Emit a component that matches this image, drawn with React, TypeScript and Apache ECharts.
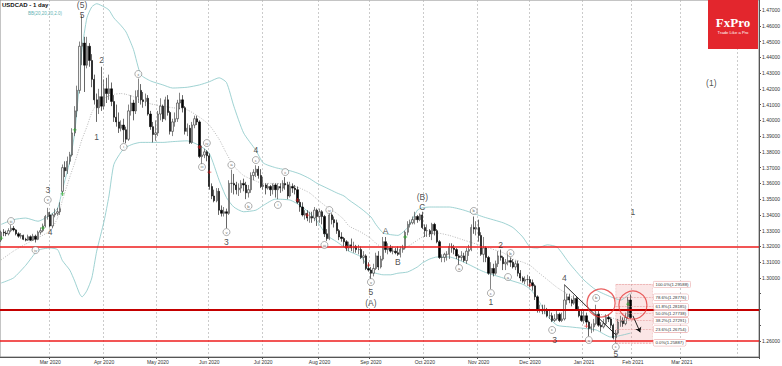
import React, { useEffect, useRef } from "react";
import * as echarts from "echarts";

// ---------- categories ----------
const FIRST_DAY = "2020-02-03";
const SKIPPED_DAYS = ["2020-12-25", "2021-01-01"];
const CATEGORY_COUNT = 310;
const LAST_LABEL_DAY = "2021-03-01";
const MONTHS = ["Jan", "Feb", "Mar", "Apr", "May", "Jun", "Jul", "Aug", "Sep", "Oct", "Nov", "Dec"];

// ---------- candles: [open, close, low, high] ----------
const feb2020 = [
  [1.3240, 1.3290, 1.3228, 1.3300], [1.3290, 1.3285, 1.3265, 1.3310], [1.3285, 1.3280, 1.3265, 1.3300],
  [1.3280, 1.3300, 1.3270, 1.3315], [1.3300, 1.3315, 1.3290, 1.3335], [1.3315, 1.3305, 1.3295, 1.3330],
  [1.3305, 1.3280, 1.3270, 1.3310], [1.3280, 1.3265, 1.3255, 1.3290], [1.3265, 1.3270, 1.3250, 1.3285],
  [1.3270, 1.3245, 1.3240, 1.3275], [1.3245, 1.3240, 1.3232, 1.3255], [1.3240, 1.3262, 1.3235, 1.3275],
  [1.3262, 1.3240, 1.3235, 1.3270], [1.3240, 1.3265, 1.3235, 1.3280], [1.3265, 1.3245, 1.3225, 1.3275],
  [1.3245, 1.3290, 1.3240, 1.3300], [1.3290, 1.3300, 1.3275, 1.3320], [1.3300, 1.3330, 1.3290, 1.3345],
  [1.3330, 1.3390, 1.3320, 1.3400], [1.3390, 1.3415, 1.3370, 1.3445],
];
const mar2020 = [
  [1.3400, 1.3330, 1.3320, 1.3420], [1.3330, 1.3400, 1.3315, 1.3410], [1.3400, 1.3410, 1.3385, 1.3440],
  [1.3410, 1.3420, 1.3395, 1.3445], [1.3420, 1.3440, 1.3400, 1.3480], [1.3550, 1.3700, 1.3540, 1.3720],
  [1.3700, 1.3680, 1.3640, 1.3740], [1.3680, 1.3740, 1.3660, 1.3770], [1.3740, 1.3780, 1.3720, 1.3800],
  [1.3780, 1.3920, 1.3770, 1.3950], [1.3920, 1.4060, 1.3900, 1.4090], [1.4060, 1.4190, 1.4020, 1.4220],
  [1.4190, 1.4470, 1.4170, 1.4500], [1.4470, 1.4490, 1.4350, 1.4667], [1.4490, 1.4350, 1.4180, 1.4530],
  [1.4350, 1.4470, 1.4330, 1.4530], [1.4470, 1.4380, 1.4340, 1.4490], [1.4380, 1.4260, 1.4210, 1.4420],
  [1.4260, 1.4130, 1.4100, 1.4290], [1.4130, 1.4080, 1.3990, 1.4170], [1.4080, 1.4150, 1.4040, 1.4200],
  [1.4150, 1.4090, 1.4060, 1.4340],
];
const apr2020 = [
  [1.4090, 1.4200, 1.4070, 1.4260], [1.4200, 1.4170, 1.4110, 1.4270], [1.4170, 1.4200, 1.4130, 1.4290],
  [1.4200, 1.4120, 1.4090, 1.4240], [1.4120, 1.4020, 1.3990, 1.4160], [1.4020, 1.3990, 1.3960, 1.4100],
  [1.3990, 1.3950, 1.3920, 1.4050], [1.3950, 1.3970, 1.3930, 1.4000], [1.3970, 1.3940, 1.3860, 1.4010],
  [1.3940, 1.3880, 1.3855, 1.3960], [1.3880, 1.4060, 1.3870, 1.4100], [1.4060, 1.4110, 1.4030, 1.4160],
  [1.4110, 1.4060, 1.4000, 1.4130], [1.4060, 1.4150, 1.4040, 1.4190], [1.4150, 1.4190, 1.4110, 1.4265],
  [1.4190, 1.4130, 1.4100, 1.4230], [1.4130, 1.4120, 1.4080, 1.4180], [1.4120, 1.4140, 1.4090, 1.4170],
  [1.4140, 1.4040, 1.4030, 1.4160], [1.4040, 1.3960, 1.3940, 1.4060], [1.3960, 1.3910, 1.3860, 1.3990],
  [1.3910, 1.3920, 1.3870, 1.4000],
];
const may2020 = [
  [1.3920, 1.4040, 1.3900, 1.4060], [1.4040, 1.4090, 1.4000, 1.4140], [1.4090, 1.4010, 1.3990, 1.4100],
  [1.4010, 1.4130, 1.4000, 1.4150], [1.4130, 1.4050, 1.4030, 1.4160], [1.4050, 1.3930, 1.3910, 1.4060],
  [1.3930, 1.3990, 1.3900, 1.4010], [1.3990, 1.4010, 1.3960, 1.4050], [1.4010, 1.4110, 1.3990, 1.4130],
  [1.4110, 1.4130, 1.4070, 1.4175], [1.4130, 1.4080, 1.4050, 1.4160], [1.4080, 1.3930, 1.3910, 1.4090],
  [1.3930, 1.3950, 1.3900, 1.3980], [1.3950, 1.3860, 1.3850, 1.3970], [1.3860, 1.3970, 1.3850, 1.3990],
  [1.3970, 1.4010, 1.3950, 1.4030], [1.4010, 1.3990, 1.3970, 1.4030], [1.3990, 1.3770, 1.3760, 1.4000],
  [1.3770, 1.3780, 1.3720, 1.3840], [1.3780, 1.3800, 1.3760, 1.3820], [1.3800, 1.3775, 1.3740, 1.3810],
];
const jun2020 = [
  [1.3775, 1.3580, 1.3560, 1.3790], [1.3580, 1.3520, 1.3500, 1.3600], [1.3520, 1.3490, 1.3480, 1.3560],
  [1.3490, 1.3550, 1.3480, 1.3570], [1.3550, 1.3430, 1.3400, 1.3570], [1.3430, 1.3410, 1.3390, 1.3460],
  [1.3410, 1.3420, 1.3390, 1.3450], [1.3420, 1.3410, 1.3315, 1.3440], [1.3410, 1.3600, 1.3400, 1.3620],
  [1.3600, 1.3600, 1.3540, 1.3687], [1.3600, 1.3590, 1.3530, 1.3660], [1.3590, 1.3560, 1.3530, 1.3610],
  [1.3560, 1.3570, 1.3520, 1.3600], [1.3570, 1.3600, 1.3540, 1.3620], [1.3600, 1.3590, 1.3550, 1.3630],
  [1.3590, 1.3540, 1.3500, 1.3610], [1.3540, 1.3560, 1.3510, 1.3590], [1.3560, 1.3650, 1.3540, 1.3670],
  [1.3650, 1.3670, 1.3620, 1.3690], [1.3670, 1.3690, 1.3640, 1.3715], [1.3690, 1.3650, 1.3630, 1.3710],
  [1.3650, 1.3580, 1.3570, 1.3690],
];
const jul2020 = [
  [1.3580, 1.3590, 1.3560, 1.3640], [1.3590, 1.3570, 1.3530, 1.3600], [1.3570, 1.3580, 1.3560, 1.3600],
  [1.3580, 1.3560, 1.3520, 1.3590], [1.3560, 1.3590, 1.3530, 1.3600], [1.3590, 1.3560, 1.3510, 1.3600],
  [1.3560, 1.3580, 1.3500, 1.3600], [1.3580, 1.3570, 1.3540, 1.3600], [1.3570, 1.3600, 1.3550, 1.3620],
  [1.3600, 1.3590, 1.3560, 1.3640], [1.3590, 1.3520, 1.3500, 1.3610], [1.3520, 1.3580, 1.3510, 1.3610],
  [1.3580, 1.3570, 1.3540, 1.3600], [1.3570, 1.3560, 1.3530, 1.3590], [1.3560, 1.3480, 1.3470, 1.3580],
  [1.3480, 1.3450, 1.3420, 1.3500], [1.3450, 1.3400, 1.3390, 1.3480], [1.3400, 1.3410, 1.3370, 1.3430],
  [1.3410, 1.3380, 1.3360, 1.3430], [1.3380, 1.3390, 1.3350, 1.3420], [1.3390, 1.3380, 1.3350, 1.3420],
  [1.3380, 1.3430, 1.3360, 1.3450], [1.3430, 1.3390, 1.3330, 1.3440],
];
const aug2020 = [
  [1.3390, 1.3420, 1.3350, 1.3440], [1.3420, 1.3390, 1.3340, 1.3430], [1.3390, 1.3280, 1.3260, 1.3400],
  [1.3280, 1.3250, 1.3235, 1.3310], [1.3250, 1.3400, 1.3240, 1.3415], [1.3400, 1.3370, 1.3340, 1.3410],
  [1.3370, 1.3350, 1.3320, 1.3390], [1.3350, 1.3300, 1.3280, 1.3370], [1.3300, 1.3260, 1.3240, 1.3310],
  [1.3260, 1.3250, 1.3230, 1.3290], [1.3250, 1.3230, 1.3200, 1.3260], [1.3230, 1.3190, 1.3170, 1.3240],
  [1.3190, 1.3210, 1.3170, 1.3230], [1.3210, 1.3190, 1.3170, 1.3250], [1.3190, 1.3200, 1.3160, 1.3230],
  [1.3200, 1.3180, 1.3160, 1.3210], [1.3180, 1.3180, 1.3150, 1.3210], [1.3180, 1.3130, 1.3120, 1.3200],
  [1.3130, 1.3140, 1.3090, 1.3170], [1.3140, 1.3060, 1.3050, 1.3150], [1.3060, 1.3050, 1.3040, 1.3100],
];
const sep2020 = [
  [1.3050, 1.3030, 1.2994, 1.3070], [1.3030, 1.3060, 1.3010, 1.3090], [1.3060, 1.3140, 1.3050, 1.3160],
  [1.3140, 1.3070, 1.3050, 1.3170], [1.3070, 1.3120, 1.3060, 1.3140], [1.3120, 1.3230, 1.3110, 1.3260],
  [1.3230, 1.3180, 1.3160, 1.3260], [1.3180, 1.3190, 1.3150, 1.3220], [1.3190, 1.3170, 1.3160, 1.3210],
  [1.3170, 1.3170, 1.3150, 1.3200], [1.3170, 1.3160, 1.3150, 1.3190], [1.3160, 1.3150, 1.3140, 1.3200],
  [1.3150, 1.3180, 1.3130, 1.3200], [1.3180, 1.3190, 1.3160, 1.3210], [1.3190, 1.3290, 1.3180, 1.3300],
  [1.3290, 1.3340, 1.3270, 1.3360], [1.3340, 1.3350, 1.3320, 1.3370], [1.3350, 1.3370, 1.3340, 1.3390],
  [1.3370, 1.3390, 1.3340, 1.3420], [1.3390, 1.3370, 1.3350, 1.3400], [1.3370, 1.3400, 1.3360, 1.3410],
  [1.3400, 1.3320, 1.3310, 1.3420],
];
const oct2020 = [
  [1.3320, 1.3300, 1.3260, 1.3340], [1.3300, 1.3300, 1.3260, 1.3340], [1.3300, 1.3280, 1.3260, 1.3310],
  [1.3280, 1.3340, 1.3240, 1.3350], [1.3340, 1.3300, 1.3270, 1.3350], [1.3300, 1.3230, 1.3220, 1.3310],
  [1.3230, 1.3130, 1.3120, 1.3240], [1.3130, 1.3130, 1.3100, 1.3150], [1.3130, 1.3150, 1.3100, 1.3160],
  [1.3150, 1.3150, 1.3110, 1.3170], [1.3150, 1.3200, 1.3120, 1.3220], [1.3200, 1.3190, 1.3160, 1.3220],
  [1.3190, 1.3180, 1.3150, 1.3210], [1.3180, 1.3140, 1.3120, 1.3190], [1.3140, 1.3130, 1.3080, 1.3150],
  [1.3130, 1.3140, 1.3110, 1.3170], [1.3140, 1.3110, 1.3100, 1.3160], [1.3110, 1.3170, 1.3090, 1.3190],
  [1.3170, 1.3180, 1.3140, 1.3210], [1.3180, 1.3320, 1.3170, 1.3340], [1.3320, 1.3310, 1.3280, 1.3390],
  [1.3310, 1.3320, 1.3270, 1.3360],
];
const nov2020 = [
  [1.3320, 1.3270, 1.3230, 1.3370], [1.3270, 1.3150, 1.3140, 1.3290], [1.3150, 1.3190, 1.3100, 1.3260],
  [1.3190, 1.3130, 1.3100, 1.3200], [1.3130, 1.3030, 1.3020, 1.3140], [1.3030, 1.3060, 1.2930, 1.3100],
  [1.3060, 1.3030, 1.3010, 1.3090], [1.3030, 1.3090, 1.3020, 1.3110], [1.3090, 1.3140, 1.3070, 1.3170],
  [1.3140, 1.3130, 1.3110, 1.3180], [1.3130, 1.3090, 1.3050, 1.3140], [1.3090, 1.3100, 1.3050, 1.3120],
  [1.3100, 1.3110, 1.3080, 1.3160], [1.3110, 1.3100, 1.3070, 1.3130], [1.3100, 1.3070, 1.3060, 1.3120],
  [1.3070, 1.3090, 1.3050, 1.3110], [1.3090, 1.3030, 1.3010, 1.3110], [1.3030, 1.3000, 1.2980, 1.3050],
  [1.3000, 1.2980, 1.2970, 1.3010], [1.2980, 1.2990, 1.2960, 1.3010], [1.2990, 1.2990, 1.2950, 1.3020],
];
const dec2020 = [
  [1.2990, 1.2970, 1.2940, 1.3010], [1.2970, 1.2950, 1.2920, 1.2990], [1.2950, 1.2880, 1.2860, 1.2960],
  [1.2880, 1.2800, 1.2780, 1.2890], [1.2800, 1.2800, 1.2780, 1.2830], [1.2800, 1.2790, 1.2770, 1.2830],
  [1.2790, 1.2800, 1.2770, 1.2830], [1.2800, 1.2760, 1.2750, 1.2810], [1.2760, 1.2760, 1.2740, 1.2800],
  [1.2760, 1.2730, 1.2720, 1.2780], [1.2730, 1.2740, 1.2720, 1.2770], [1.2740, 1.2770, 1.2730, 1.2790],
  [1.2770, 1.2730, 1.2720, 1.2780], [1.2730, 1.2740, 1.2720, 1.2780], [1.2740, 1.2860, 1.2730, 1.2957],
  [1.2860, 1.2880, 1.2830, 1.2900], [1.2880, 1.2860, 1.2840, 1.2900], [1.2860, 1.2840, 1.2820, 1.2870],
  [1.2840, 1.2870, 1.2830, 1.2890], [1.2870, 1.2800, 1.2790, 1.2880], [1.2800, 1.2760, 1.2750, 1.2820],
  [1.2760, 1.2730, 1.2720, 1.2790],
];
const jan2021 = [
  [1.2730, 1.2760, 1.2710, 1.2800], [1.2760, 1.2720, 1.2700, 1.2780], [1.2720, 1.2680, 1.2630, 1.2730],
  [1.2680, 1.2690, 1.2650, 1.2710], [1.2690, 1.2710, 1.2660, 1.2740], [1.2710, 1.2770, 1.2700, 1.2830],
  [1.2770, 1.2700, 1.2690, 1.2790], [1.2700, 1.2690, 1.2660, 1.2720], [1.2690, 1.2710, 1.2680, 1.2740],
  [1.2710, 1.2750, 1.2700, 1.2770], [1.2750, 1.2740, 1.2720, 1.2770], [1.2740, 1.2700, 1.2680, 1.2750],
  [1.2700, 1.2620, 1.2610, 1.2710], [1.2620, 1.2650, 1.2589, 1.2670], [1.2650, 1.2720, 1.2640, 1.2740],
  [1.2720, 1.2730, 1.2690, 1.2760], [1.2730, 1.2710, 1.2690, 1.2750], [1.2710, 1.2750, 1.2700, 1.2780],
  [1.2755, 1.2860, 1.2740, 1.2880], [1.2860, 1.2749, 1.2740, 1.2895],
];

// ---------- Bollinger bands (bar index, value) ----------
const bbIndex = [0, 5, 10, 15, 20, 23, 25, 28, 30, 32, 33, 35, 37, 39, 42, 44, 46, 49, 51, 54, 57, 61, 66, 70, 76, 81, 85, 89, 92, 95, 99, 104, 107, 112, 118, 122, 126, 129, 133, 137, 140, 142, 147, 151, 153, 156, 159, 162, 166, 170, 172, 175, 178, 183, 189, 197, 205, 209, 213, 216, 219, 223, 227, 232, 238, 243, 249, 253, 257];
const bbUpper = [1.3340, 1.3370, 1.3380, 1.3360, 1.3400, 1.3440, 1.3560, 1.3740, 1.3920, 1.4250, 1.4450, 1.4650, 1.4720, 1.4740, 1.4720, 1.4700, 1.4650, 1.4600, 1.4560, 1.4450, 1.4290, 1.4250, 1.4225, 1.4205, 1.4210, 1.4225, 1.4245, 1.4270, 1.4240, 1.4090, 1.3920, 1.3810, 1.3730, 1.3700, 1.3680, 1.3660, 1.3630, 1.3600, 1.3570, 1.3540, 1.3520, 1.3495, 1.3440, 1.3387, 1.3340, 1.3285, 1.3275, 1.3270, 1.3320, 1.3430, 1.3445, 1.3450, 1.3450, 1.3450, 1.3430, 1.3387, 1.3350, 1.3320, 1.3260, 1.3196, 1.3190, 1.3210, 1.3196, 1.3094, 1.2987, 1.2923, 1.2880, 1.2860, 1.2904];
const bbMiddle = [1.3115, 1.3170, 1.3215, 1.3255, 1.3300, 1.3380, 1.3494, 1.3640, 1.3730, 1.3830, 1.3880, 1.3960, 1.4050, 1.4100, 1.4140, 1.4155, 1.4165, 1.4170, 1.4165, 1.4150, 1.4125, 1.4105, 1.4090, 1.4080, 1.4066, 1.4020, 1.3970, 1.3880, 1.3790, 1.3710, 1.3650, 1.3615, 1.3600, 1.3600, 1.3590, 1.3570, 1.3539, 1.3500, 1.3450, 1.3410, 1.3370, 1.3330, 1.3290, 1.3250, 1.3220, 1.3190, 1.3177, 1.3180, 1.3200, 1.3240, 1.3260, 1.3280, 1.3285, 1.3270, 1.3240, 1.3200, 1.3160, 1.3120, 1.3100, 1.3080, 1.3040, 1.2990, 1.2940, 1.2890, 1.2830, 1.2780, 1.2750, 1.2730, 1.2740];
const bbLower = [1.2968, 1.3000, 1.3080, 1.3175, 1.3190, 1.3180, 1.3110, 1.3050, 1.2980, 1.2900, 1.2880, 1.2920, 1.3000, 1.3170, 1.3360, 1.3520, 1.3720, 1.3800, 1.3830, 1.3850, 1.3860, 1.3860, 1.3860, 1.3865, 1.3870, 1.3840, 1.3790, 1.3620, 1.3510, 1.3450, 1.3420, 1.3430, 1.3460, 1.3500, 1.3494, 1.3460, 1.3412, 1.3360, 1.3270, 1.3230, 1.3196, 1.3170, 1.3133, 1.3040, 1.3030, 1.3020, 1.3020, 1.3030, 1.3038, 1.3070, 1.3095, 1.3120, 1.3133, 1.3133, 1.3100, 1.3040, 1.3000, 1.2980, 1.2960, 1.2930, 1.2870, 1.2760, 1.2700, 1.2690, 1.2680, 1.2670, 1.2625, 1.2635, 1.2650];

// ---------- levels ----------
const supportResistance = [1.3170, 1.2840, 1.2640];
const fibLevels = [1.29588, 1.28776, 1.28185, 1.27738, 1.27291, 1.26754, 1.25887];
const fibNames = ["100.0%", "78.6%", "61.8%", "50.0%", "38.2%", "23.6%", "0.0%"];
const fibStartBar = 251;
const fibEndBar = 266;
const priceTags = [1.28728, 1.28316, 1.27485, 1.26884];
const priceTagColors = ["#bfe2e2", "#dcdcdc", "#ececec", "#9ea3f3"];
const yTickValues = [1.26, 1.27, 1.28, 1.29, 1.30, 1.31, 1.32, 1.33, 1.34, 1.35, 1.36, 1.37, 1.38, 1.39, 1.40, 1.41, 1.42, 1.43, 1.44, 1.45, 1.46, 1.47];
const yLabelValues = [1.26, 1.30, 1.31, 1.32, 1.33, 1.34, 1.35, 1.36, 1.37, 1.38, 1.39, 1.40, 1.41, 1.42, 1.43, 1.44, 1.45, 1.46, 1.47];
const Y_MIN = 1.24985;
const Y_MAX = 1.47635;

// ---------- wave annotations: [bar index, price, text] ----------
const waveText: [number, number, string][] = [
  [33, 1.4731, "(5)"], [33, 1.4669, "5"], [41, 1.4383, "2"], [39, 1.3894, "1"], [19, 1.3558, "3"],
  [20, 1.3289, "4"], [92, 1.3228, "3"], [104, 1.3812, "4"], [151, 1.2911, "5"], [151, 1.2841, "(A)"],
  [157, 1.3298, "A"], [162, 1.3101, "B"], [172, 1.3450, "C"], [172, 1.3513, "(B)"], [200, 1.2847, "1"],
  [204, 1.3209, "2"], [226, 1.2606, "3"], [230, 1.3000, "4"], [251, 1.2520, "5"], [258, 1.3418, "1"],
  [290, 1.4237, "(1)"],
];
const waveCircled: [number, number, string][] = [
  [4, 1.3361, "iii"], [14, 1.3177, "iv"], [19, 1.3495, "v"], [50, 1.3831, "i"], [56, 1.4294, "ii"],
  [82, 1.3704, "iii"], [84, 1.3856, "iv"], [92, 1.3291, "v"], [94, 1.3717, "a"], [101, 1.3456, "b"],
  [104, 1.3748, "c"], [113, 1.3463, "i"], [116, 1.3672, "ii"], [132, 1.3209, "iii"], [134, 1.3431, "iv"],
  [151, 1.2974, "v"], [187, 1.3063, "a"], [193, 1.3425, "b"], [200, 1.2904, "c"], [207, 1.3006, "a"],
  [208, 1.3158, "b"], [225, 1.2670, "c"], [240, 1.2606, "a"], [243, 1.2873, "b"], [251, 1.2562, "c"],
];
const buySignals: [number, number][] = [[0, 1.3253], [17, 1.3317], [25, 1.3533], [30, 1.3939], [165, 1.3260], [256, 1.2834]];
const sellSignals: [number, number][] = [[81, 1.3831], [85, 1.3672], [121, 1.3494], [125, 1.3399], [141, 1.3196], [150, 1.3082], [216, 1.2955], [239, 1.2695]];
const highlightCircles: [number, number][] = [[245, 1.2841], [258, 1.2828]];
const trendLine: [number, number][] = [[230, 1.2957], [251, 1.2640]];
const forecastArrow: [number, number][] = [[258, 1.2760], [261, 1.2655]];

function buildDates(): string[] {
  const out: string[] = [];
  const d = new Date(FIRST_DAY + "T00:00:00Z");
  while (out.length < CATEGORY_COUNT) {
    const wd = d.getUTCDay();
    const s = d.toISOString().slice(0, 10);
    if (wd !== 0 && wd !== 6 && !SKIPPED_DAYS.includes(s)) out.push(s);
    d.setUTCDate(d.getUTCDate() + 1);
  }
  return out;
}

const PLUS = "path://M4,0H6V4H10V6H6V10H4V6H0V4H4Z";
const FONT = "Liberation Sans";

export default function App() {
  const ref = useRef<HTMLDivElement>(null);
  useEffect(() => {
    if (!ref.current) return;
    const chart = echarts.init(ref.current, undefined, { renderer: "svg" });
    const dates = buildDates();
    const candles = [...feb2020, ...mar2020, ...apr2020, ...may2020, ...jun2020, ...jul2020, ...aug2020, ...sep2020, ...oct2020, ...nov2020, ...dec2020, ...jan2021];
    const monthStarts = new Set<number>();
    dates.forEach((s, i) => {
      if (i > 0 && s.slice(5, 7) !== dates[i - 1].slice(5, 7)) monthStarts.add(i);
    });
    const lastLabel = dates.indexOf(LAST_LABEL_DAY);
    const labelStarts = new Set([...monthStarts].filter((i) => i <= lastLabel));
    const fmtMonth = (v: string) => `${MONTHS[+v.slice(5, 7) - 1]} ${v.slice(0, 4)}`;
    const band = (vals: number[]) => bbIndex.map((k, j) => [dates[k], vals[j]]);
    const pt = (p: [number, number]) => [dates[p[0]], p[1]];

    const option: any = {
      animation: false,
      backgroundColor: "#ffffff",
      grid: { left: 0, right: 23, top: 0, bottom: 9, show: true, borderColor: "#8a8a8a", borderWidth: 1, backgroundColor: "#fff", outerBoundsMode: "none" },
      xAxis: {
        type: "category",
        data: dates,
        boundaryGap: true,
        axisLine: { show: true, lineStyle: { color: "#555", width: 1 } },
        axisTick: { show: true, interval: (i: number) => labelStarts.has(i), length: 2, lineStyle: { color: "#555" } },
        axisLabel: { interval: (i: number) => labelStarts.has(i), formatter: fmtMonth, fontSize: 5, color: "#333", margin: 2, fontFamily: FONT },
        splitLine: { show: true, interval: (i: number) => monthStarts.has(i), lineStyle: { color: "#b5b5b5", type: [2, 2], width: 0.7 } },
      },
      yAxis: {
        type: "value",
        position: "right",
        min: Y_MIN,
        max: Y_MAX,
        axisLine: { show: true, lineStyle: { color: "#555" } },
        axisTick: { show: true, customValues: yTickValues, length: 2, lineStyle: { color: "#555" } },
        axisLabel: { customValues: yLabelValues, formatter: (v: number) => v.toFixed(5), fontSize: 5, color: "#333", margin: 3, fontFamily: FONT },
        splitLine: { show: false },
      },
      graphic: [
        { type: "text", left: 2, top: 2, style: { text: "USDCAD - 1 day", fill: "#111", font: `bold 6px "${FONT}"` } },
        { type: "text", left: 28, top: 10.5, style: { text: "BB(20,20,20,2.0)", fill: "#5fb3b3", font: `4.5px "${FONT}"` } },
        { type: "rect", shape: { x: 708, y: 0, width: 50, height: 49 }, style: { fill: "#e3262d" }, z: 100 },
        { type: "text", x: 733, y: 22, z: 101, style: { text: "FxPro", fill: "#fff", font: 'bold 13px "Liberation Serif"', align: "center", verticalAlign: "middle" } },
        { type: "text", x: 733, y: 32, z: 101, style: { text: "Trade Like a Pro", fill: "#fff", font: `4.2px "${FONT}"`, align: "center", verticalAlign: "middle" } },
      ],
      series: [
        { type: "line", data: band(bbUpper), symbol: "none", smooth: 0.2, lineStyle: { color: "#86c6c6", width: 0.8 }, z: 1, silent: true },
        { type: "line", data: band(bbLower), symbol: "none", smooth: 0.2, lineStyle: { color: "#86c6c6", width: 0.8 }, z: 1, silent: true },
        { type: "line", data: band(bbMiddle), symbol: "none", smooth: 0.2, lineStyle: { color: "#9a9a9a", width: 0.7, type: [1, 1.5] }, z: 1, silent: true },
        {
          type: "line",
          data: [],
          silent: true,
          markArea: {
            silent: true,
            itemStyle: { color: "rgba(238,140,140,0.22)", borderColor: "rgba(225,110,110,0.5)", borderWidth: 0.5, borderType: "dashed" },
            data: [[{ coord: [dates[fibStartBar], fibLevels[fibLevels.length - 1]] }, { coord: [dates[fibEndBar], fibLevels[0]] }]],
          },
          markLine: {
            silent: true,
            symbol: ["none", "none"],
            lineStyle: { color: "#e89a9a", width: 0.6, type: [2, 1] },
            label: {
              show: true, position: "end", distance: 1, fontSize: 4.3, color: "#333", fontFamily: FONT,
              backgroundColor: "#fff", borderColor: "#e59999", borderWidth: 0.5, borderRadius: 1, padding: [1, 2],
            },
            data: fibLevels.map((v, k) => [
              { coord: [dates[fibStartBar], v], label: { formatter: `${fibNames[k]}(${v.toFixed(5)})` } },
              { coord: [dates[fibEndBar], v] },
            ]),
          },
          z: 2,
        },
        {
          type: "candlestick",
          data: candles,
          barWidth: 1.8,
          itemStyle: { color: "#f2f2f2", color0: "#000", borderColor: "#333", borderColor0: "#000", borderWidth: 0.6 },
          markLine: {
            silent: true,
            symbol: ["none", "none"],
            label: { show: false },
            data: supportResistance.map((v, k) => ({ yAxis: v, lineStyle: { color: k === 1 ? "#c40000" : "#ee1c1c", width: k === 1 ? 2.2 : 1.6, type: "solid" } })),
          },
          z: 3,
        },
        {
          type: "line",
          data: [],
          silent: true,
          markLine: {
            silent: true,
            label: { show: false },
            data: [
              [{ coord: pt(trendLine[0]), symbol: "none" }, { coord: pt(trendLine[1]), symbol: "none" }],
              [{ coord: pt(forecastArrow[0]), symbol: "none" }, { coord: pt(forecastArrow[1]), symbol: "arrow", symbolSize: 5 }],
            ],
            lineStyle: { color: "#111", width: 0.9, type: "solid" },
          },
          z: 4,
        },
        {
          type: "line",
          data: [],
          silent: true,
          markLine: {
            silent: true,
            symbol: ["none", "none"],
            lineStyle: { opacity: 0, width: 0 },
            data: priceTags.map((v, k) => ({
              yAxis: v,
              label: {
                show: true, position: "end", distance: 1, formatter: v.toFixed(5), fontSize: 4.5, color: "#222", fontFamily: FONT,
                backgroundColor: priceTagColors[k], borderColor: "#888", borderWidth: 0.4, padding: [0.5, 1],
              },
            })),
          },
          z: 6,
        },
        {
          type: "scatter",
          data: highlightCircles.map(pt),
          symbol: "circle",
          symbolSize: 28,
          itemStyle: { color: "rgba(0,0,0,0)", borderColor: "#e53a3a", borderWidth: 1.2 },
          clip: false,
          silent: true,
          z: 5,
        },
        { type: "scatter", data: buySignals.map(pt), symbol: PLUS, symbolSize: 4, itemStyle: { color: "#1fa51f" }, silent: true, z: 5 },
        { type: "scatter", data: sellSignals.map(pt), symbol: PLUS, symbolSize: 4, itemStyle: { color: "#d81818" }, silent: true, z: 5 },
        {
          type: "scatter",
          data: waveCircled.map((w) => [dates[w[0]], w[1], w[2]]),
          symbol: "circle",
          symbolSize: 7,
          itemStyle: { color: "#fff", borderColor: "#555", borderWidth: 0.6 },
          label: { show: true, position: "inside", formatter: (p: any) => p.value[2], fontSize: 4.2, color: "#333", fontFamily: FONT },
          clip: false,
          silent: true,
          z: 6,
        },
        {
          type: "scatter",
          data: waveText.map((w) => [dates[w[0]], w[1], w[2]]),
          symbol: "circle",
          symbolSize: 1,
          itemStyle: { color: "rgba(255,255,255,0)" },
          label: {
            show: true, position: [0.5, 0.5], align: "center", verticalAlign: "middle",
            formatter: (p: any) => p.value[2], fontSize: 8.5, lineHeight: 9, color: "#222", fontFamily: FONT,
            textBorderWidth: 0,
          },
          clip: false,
          silent: true,
          z: 6,
        },
      ],
    };
    chart.setOption(option);
    return () => chart.dispose();
  }, []);
  return <div ref={ref} style={{ position: "fixed", left: 0, top: 0, width: 782, height: 366 }} />;
}
